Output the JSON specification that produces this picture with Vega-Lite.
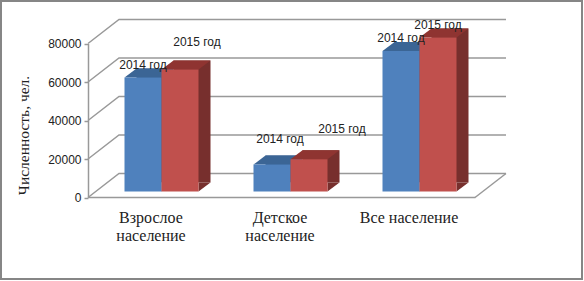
{"$schema":"https://vega.github.io/schema/vega-lite/v6.json","autosize":{"type":"none"},"padding":{"left":1,"top":1,"right":2,"bottom":2},"width":581,"height":278,"background":"white","config":{"view":{"stroke":"#868686","strokeWidth":2}},"datasets":{"main":[{"cat":"Взрослое население","year":"2014","value":59200,"label":"2014 год"},{"cat":"Взрослое население","year":"2015","value":63400,"label":"2015 год"},{"cat":"Детское население","year":"2014","value":14000,"label":"2014 год"},{"cat":"Детское население","year":"2015","value":16800,"label":"2015 год"},{"cat":"Все население","year":"2014","value":73000,"label":"2014 год"},{"cat":"Все население","year":"2015","value":80000,"label":"2015 год"}],"ticks":[{"cat":"Взрослое население","year":"2014","value":0},{"cat":"Взрослое население","year":"2014","value":20000},{"cat":"Взрослое население","year":"2014","value":40000},{"cat":"Взрослое население","year":"2014","value":60000},{"cat":"Взрослое население","year":"2014","value":80000}]},"data":{"name":"main"},"encoding":{"x":{"field":"cat","type":"nominal","sort":null,"title":null,"scale":{"domain":["Взрослое население","Детское население","Все население"],"range":[87,474],"paddingInner":0,"paddingOuter":0},"axis":{"orient":"bottom","offset":-82,"labelAngle":0,"ticks":false,"domainColor":"#999999","domainWidth":1.5,"labelFont":"Liberation Serif","labelFontSize":16,"labelColor":"#222222","labelPadding":12,"labelLineHeight":18,"labelOffset":-1.5,"labelExpr":"datum.value == 'Все население' ? datum.label : split(datum.label,' ')","labelLimit":0}},"xOffset":{"field":"year","type":"nominal","scale":{"type":"point","domain":["2014","2015"],"range":[55,92],"padding":0}},"y":{"field":"value","type":"quantitative","scale":{"domain":[0,80000],"range":[196.5,42.5]},"title":"Численность, чел.","axis":{"orient":"left","offset":-87,"values":[0,20000,40000,60000,80000],"grid":false,"format":"d","domainColor":"#999999","domainWidth":1.5,"tickColor":"#999999","tickSize":4,"tickWidth":1.5,"labelFont":"Liberation Sans","labelFontSize":12,"labelColor":"#222222","labelPadding":3,"titleFont":"Liberation Serif","titleFontSize":15.5,"titleFontWeight":"normal","titleColor":"#222222","titleX":-57,"titleY":134}}},"layer":[{"data":{"name":"ticks"},"mark":{"type":"point","filled":false,"opacity":1,"size":4,"stroke":"#999999","strokeWidth":1.5,"shape":"M-55,0L-24,-24L363,-24"}},{"data":{"name":"ticks"},"transform":[{"filter":"datum.value == 0"}],"mark":{"type":"point","filled":false,"opacity":1,"size":4,"stroke":"#999999","strokeWidth":1.5,"shape":"M332,0L363,-24"}},{"mark":{"type":"bar","yOffset":-15,"y2Offset":-15},"encoding":{"xOffset":{"field":"year","type":"nominal","scale":{"type":"band","domain":["2014","2015"],"range":[48.5,122.5],"paddingOuter":0,"paddingInner":0}},"color":{"field":"year","type":"nominal","legend":null,"scale":{"domain":["2014","2015"],"range":["#385D8A","#772F2D"]}}}},{"mark":{"type":"point","filled":true,"opacity":1,"size":4,"strokeWidth":0,"yOffset":-6,"shape":"M18.5,0L30.5,-9L18.5,-9Z"},"encoding":{"y":{"datum":0},"color":{"field":"year","type":"nominal","legend":null,"scale":{"domain":["2014","2015"],"range":["#385D8A","#772F2D"]}}}},{"mark":{"type":"point","filled":true,"opacity":1,"size":4,"strokeWidth":0,"yOffset":-6,"shape":"M-18.5,0L18.5,0L30.5,-9L-6.5,-9Z"},"encoding":{"color":{"field":"year","type":"nominal","legend":null,"scale":{"domain":["2014","2015"],"range":["#3B6595","#8F3431"]}}}},{"mark":{"type":"bar","yOffset":-6,"y2Offset":-6},"encoding":{"xOffset":{"field":"year","type":"nominal","scale":{"type":"band","domain":["2014","2015"],"range":[36.5,110.5],"paddingOuter":0,"paddingInner":0}},"color":{"field":"year","type":"nominal","legend":null,"scale":{"domain":["2014","2015"],"range":["#4F81BD","#C0504D"]}}}},{"transform":[{"filter":"(datum.cat == 'Взрослое население' && datum.year == '2014') || datum.cat == 'Все население'"}],"mark":{"type":"text","font":"Liberation Sans","fontSize":12,"color":"#222222","dx":0,"dy":-19},"encoding":{"text":{"field":"label"}}},{"transform":[{"filter":"datum.cat == 'Взрослое население' && datum.year == '2015'"}],"mark":{"type":"text","font":"Liberation Sans","fontSize":12,"color":"#222222","dx":17,"dy":-33},"encoding":{"text":{"field":"label"}}},{"transform":[{"filter":"datum.cat == 'Детское население' && datum.year == '2014'"}],"mark":{"type":"text","font":"Liberation Sans","fontSize":12,"color":"#222222","dx":8,"dy":-32},"encoding":{"text":{"field":"label"}}},{"transform":[{"filter":"datum.cat == 'Детское население' && datum.year == '2015'"}],"mark":{"type":"text","font":"Liberation Sans","fontSize":12,"color":"#222222","dx":33,"dy":-36},"encoding":{"text":{"field":"label"}}}],"resolve":{"scale":{"color":"independent","xOffset":"independent"}}}
